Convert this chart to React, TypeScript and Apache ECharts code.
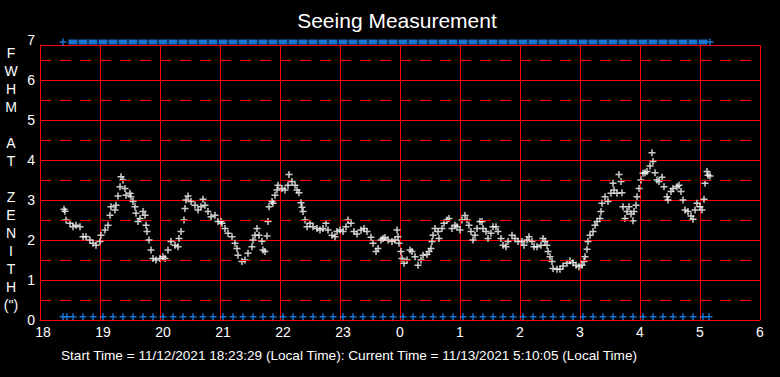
import React, { useEffect, useRef } from 'react';
import * as echarts from 'echarts';

// [minutes after 18:00, FWHM arcsec]
const samples: [number, number][] = [
  [24, 2.77], [25, 2.72], [26, 2.5], [30, 2.42], [33, 2.33], [36, 2.37], [40, 2.33], [43, 2.08], [46, 2.08], [50, 2.0],
  [53, 1.92], [56, 1.87], [60, 1.96], [61, 2.12], [65, 2.25], [68, 2.37], [70, 2.62], [71, 2.83], [75, 2.75], [76, 2.87],
  [78, 3.1], [80, 3.33], [81, 3.58], [83, 3.5], [85, 3.29], [86, 3.12], [90, 3.17], [91, 3.08], [93, 2.96], [95, 2.83],
  [96, 2.67], [98, 2.46], [100, 2.54], [103, 2.71], [105, 2.62], [106, 2.37], [107, 2.21], [109, 2.0], [111, 1.75], [113, 1.54],
  [116, 1.5], [120, 1.54], [123, 1.58], [125, 1.54], [128, 1.75], [131, 1.96], [135, 1.87], [138, 1.83], [139, 2.04], [141, 2.21],
  [144, 2.5], [145, 2.79], [146, 3.0], [148, 3.1], [151, 2.96], [155, 2.87], [158, 2.75], [161, 2.83], [163, 3.02], [165, 2.87],
  [168, 2.71], [171, 2.58], [175, 2.62], [178, 2.46], [181, 2.46], [182, 2.42], [185, 2.29], [188, 2.17], [192, 2.08], [195, 1.92],
  [197, 1.79], [198, 1.62], [202, 1.46], [205, 1.5], [208, 1.67], [212, 1.83], [213, 2.0], [215, 2.12], [217, 2.29], [219, 2.12],
  [222, 1.97], [223, 1.75], [225, 1.71], [227, 2.1], [228, 2.46], [229, 2.83], [232, 2.96], [233, 2.92], [235, 3.12], [237, 3.25],
  [238, 3.37], [242, 3.29], [245, 3.25], [248, 3.37], [249, 3.64], [252, 3.46], [255, 3.37], [257, 3.25], [259, 3.18], [261, 2.93],
  [262, 2.82], [263, 2.71], [265, 2.5], [267, 2.33], [270, 2.42], [273, 2.33], [277, 2.29], [280, 2.25], [283, 2.29], [286, 2.42],
  [288, 2.25], [292, 2.12], [295, 2.08], [297, 2.21], [300, 2.25], [303, 2.21], [306, 2.33], [308, 2.5], [311, 2.42], [314, 2.21],
  [317, 2.15], [321, 2.25], [324, 2.29], [327, 2.21], [331, 2.07], [333, 1.92], [336, 1.71], [338, 1.79], [341, 2.0], [343, 2.04],
  [345, 2.06], [348, 2.0], [352, 1.96], [355, 2.0], [357, 2.25], [358, 2.08], [359, 1.92], [361, 1.71], [362, 1.54], [364, 1.42],
  [367, 1.5], [370, 1.75], [372, 1.71], [375, 1.58], [378, 1.37], [381, 1.5], [383, 1.62], [387, 1.64], [389, 1.71], [391, 1.79],
  [392, 1.96], [393, 2.12], [395, 2.29], [398, 2.21], [399, 2.04], [402, 2.29], [404, 2.42], [407, 2.5], [409, 2.54], [412, 2.29],
  [415, 2.37], [417, 2.33], [420, 2.25], [422, 2.5], [425, 2.61], [427, 2.5], [429, 2.37], [431, 2.21], [433, 2.0], [435, 2.12],
  [437, 2.29], [440, 2.46], [442, 2.46], [443, 2.29], [446, 2.21], [448, 2.04], [451, 2.17], [453, 2.33], [456, 2.33], [458, 2.21],
  [461, 2.04], [463, 1.87], [466, 1.83], [468, 1.96], [472, 2.12], [475, 2.04], [478, 1.96], [482, 1.96], [484, 1.87], [487, 2.0],
  [489, 2.08], [492, 1.96], [494, 1.83], [497, 1.83], [501, 1.87], [503, 2.04], [505, 1.96], [507, 1.87], [508, 1.71], [510, 1.58],
  [512, 1.46], [513, 1.29], [517, 1.27], [520, 1.27], [523, 1.35], [527, 1.42], [530, 1.48], [533, 1.43], [536, 1.37], [539, 1.33],
  [542, 1.37], [544, 1.46], [545, 1.58], [547, 1.77], [548, 1.96], [550, 2.12], [553, 2.21], [555, 2.37], [557, 2.46], [560, 2.54],
  [561, 2.71], [562, 2.92], [565, 3.08], [568, 2.96], [571, 3.17], [573, 3.42], [574, 3.25], [577, 3.17], [579, 3.64], [581, 3.46],
  [582, 3.18], [583, 2.83], [585, 2.54], [587, 2.71], [589, 2.83], [591, 2.65], [593, 2.48], [594, 2.71], [596, 2.87], [597, 3.08],
  [599, 3.29], [601, 3.5], [603, 3.67], [605, 3.68], [607, 3.71], [610, 3.85], [612, 4.18], [613, 3.96], [615, 3.68], [617, 3.5],
  [619, 3.46], [622, 3.57], [624, 3.33], [627, 3.08], [628, 3.0], [631, 3.21], [633, 3.29], [637, 3.33], [639, 3.37], [641, 3.21],
  [643, 3.0], [645, 2.75], [648, 2.71], [651, 2.6], [653, 2.52], [655, 2.75], [657, 2.92], [660, 2.83], [662, 2.75], [664, 3.02],
  [665, 3.42], [667, 3.71], [668, 3.62], [670, 3.6],
];

// flag markers (minutes after 18:00)
const flagMinutes = [
  33, 43, 53, 63, 73, 83, 93, 103, 113, 123, 133, 143, 153, 163, 173, 183, 193, 203, 213, 223, 233, 243, 253, 263, 273, 283,
  293, 303, 313, 323, 333, 343, 353, 363, 373, 383, 393, 403, 413, 423, 433, 443, 453, 463, 473, 483, 493, 503, 513, 523, 533,
  543, 553, 563, 573, 583, 593, 603, 613, 623, 633, 643, 653, 663,
];
const topEndMinutes = [23, 670];
const bottomExtraMinutes = [23, 27, 669];
const TOP_FLAG = 6.95;
const BOTTOM_FLAG = 0.08;

const halfLevels = [0.5, 1.5, 2.5, 3.5, 4.5, 5.5, 6.5];
const yTopLabel = '7';
const titleText = 'Seeing Measurement';
const footerText =
  'Start Time = 11/12/2021 18:23:29 (Local Time): Current Time = 11/13/2021 5:10:05 (Local Time)';
const yNameLetters = ['F', 'W', 'H', 'M', '', 'A', 'T', '', 'Z', 'E', 'N', 'I', 'T', 'H', '(")'];

const FONT = '"Liberation Sans", Arial, sans-serif';
const RED = '#ff0000';
const BLUE = '#1e90ff';
const CROSS = 'path://M0,2.75H7V4.25H0Z M2.75,0H4.25V7H2.75Z';

export default function App() {
  const ref = useRef<HTMLDivElement>(null);
  useEffect(() => {
    if (!ref.current) return;
    const chart = echarts.init(ref.current, undefined, { renderer: 'svg' });
    const flagBottom = [...bottomExtraMinutes, ...flagMinutes].map((m) => [m, BOTTOM_FLAG]);
    const flagTopBlocks = flagMinutes.map((m) => [m, TOP_FLAG]);
    const flagTopEnds = topEndMinutes.map((m) => [m, TOP_FLAG]);
    chart.setOption({
      animation: false,
      backgroundColor: '#000000',
      grid: { left: 40, top: 45, width: 720, height: 275, containLabel: false, outerBoundsMode: 'none' },
      xAxis: {
        type: 'value',
        min: 0,
        max: 720,
        interval: 60,
        axisLine: { show: true, lineStyle: { color: RED, width: 1 } },
        axisTick: { show: false },
        splitLine: { show: true, lineStyle: { color: RED, width: 1 } },
        axisLabel: {
          color: '#ffffff',
          fontSize: 14,
          fontFamily: FONT,
          margin: 5,
          formatter: (v: number) => {
            const h = String((18 + v / 60) % 24);
            return h.length > 1 ? `{d|${h}}` : h;
          },
          rich: { d: { color: '#ffffff', fontSize: 14, fontFamily: FONT, padding: [0, 0, 0, 6] } },
        },
      },
      yAxis: {
        type: 'value',
        min: 0,
        max: 6.875,
        interval: 1,
        axisLine: { show: true, lineStyle: { color: RED, width: 1 } },
        axisTick: { show: false },
        splitLine: { show: true, lineStyle: { color: RED, width: 1 } },
        axisLabel: { color: '#ffffff', fontSize: 14, fontFamily: FONT, margin: 5, showMaxLabel: false },
      },
      graphic: [
        {
          type: 'text',
          x: 397,
          y: 20,
          style: { text: titleText, fill: '#ffffff', font: `21px ${FONT}`, textAlign: 'center', textVerticalAlign: 'middle', align: 'center', verticalAlign: 'middle' },
        },
        {
          type: 'text',
          x: 349,
          y: 355,
          style: { text: footerText, fill: '#ffffff', font: `13.6px ${FONT}`, textAlign: 'center', textVerticalAlign: 'middle', align: 'center', verticalAlign: 'middle' },
        },
        {
          type: 'text',
          x: 11,
          y: 44,
          style: {
            text: yNameLetters.join('\n'),
            fill: '#ffffff',
            font: `14px ${FONT}`,
            lineHeight: 18,
            textAlign: 'center',
            align: 'center',
            textVerticalAlign: 'top',
            verticalAlign: 'top',
          },
        },
        {
          type: 'text',
          x: 35,
          y: 40,
          style: { text: yTopLabel, fill: '#ffffff', font: `14px ${FONT}`, textAlign: 'right', align: 'right', textVerticalAlign: 'middle', verticalAlign: 'middle' },
        },
      ],
      series: [
        {
          type: 'scatter',
          name: 'flagsBottom',
          symbol: CROSS,
          symbolSize: 7,
          itemStyle: { color: BLUE },
          data: flagBottom,
          clip: false,
          z: 2,
          markLine: {
            silent: true,
            symbol: ['none', 'none'],
            label: { show: false },
            lineStyle: { color: RED, width: 1, type: [11, 9] },
            data: halfLevels.map((v) => ({ yAxis: v })),
          },
        },
        {
          type: 'scatter',
          name: 'flagsTop',
          symbol: 'rect',
          symbolSize: [9, 5],
          itemStyle: { color: BLUE },
          data: flagTopBlocks,
          clip: false,
          z: 3,
        },
        {
          type: 'scatter',
          name: 'flagsTopEnds',
          symbol: CROSS,
          symbolSize: 7,
          itemStyle: { color: BLUE },
          data: flagTopEnds,
          clip: false,
          z: 3,
        },
        {
          type: 'scatter',
          name: 'fwhm',
          symbol: CROSS,
          symbolSize: 7,
          itemStyle: { color: '#ffffff' },
          data: samples,
          z: 4,
        },
      ],
    });
    return () => chart.dispose();
  }, []);
  return (
    <div
      ref={ref}
      style={{ position: 'fixed', left: 0, top: 0, width: 780, height: 377, background: '#000' }}
    />
  );
}
